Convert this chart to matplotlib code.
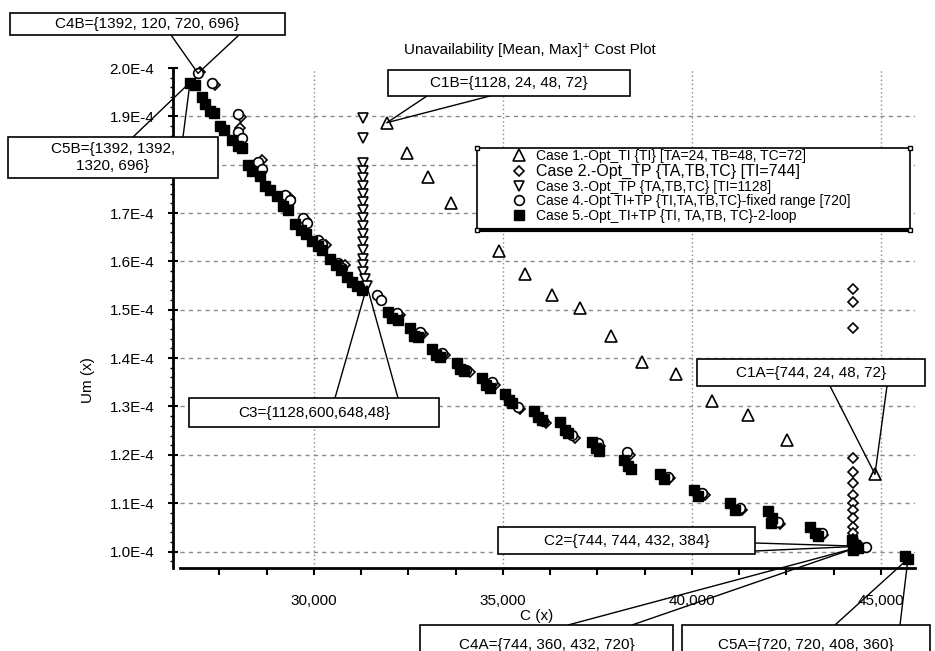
import matplotlib
matplotlib.use("Agg")
import matplotlib.pyplot as plt
import numpy as np
from matplotlib.patches import Rectangle
from matplotlib.ticker import FixedLocator, MultipleLocator, FuncFormatter

plt.rcParams['font.family'] = ['Liberation Sans', 'DejaVu Sans']

# ---- data (cost C(x), unavailability Um(x) in units of 1e-4) ----
case1_cost = [31931, 32460, 33016, 33624, 34894, 35582, 36296, 37037, 37857,
              38677, 39576, 40529, 41481, 42513, 44841]
case1_um = [1.887, 1.825, 1.774, 1.720, 1.621, 1.573, 1.530, 1.503, 1.445,
            1.392, 1.367, 1.311, 1.282, 1.230, 1.160]

case2_cost = [26984, 27381, 28069, 28042, 28624, 29365, 29788, 30317, 30820, 31746,
              32275, 32884, 33466, 34127, 34788, 35450, 36138, 36905, 37566, 38360,
              39418, 40344, 41323, 42328, 43466, 44445,
              44259, 44259, 44259, 44259, 44259, 44259, 44259, 44259, 44259, 44259,
              44259, 44259, 44259, 44259]
case2_um = [1.991, 1.964, 1.898, 1.875, 1.809, 1.732, 1.685, 1.633, 1.592, 1.524,
            1.489, 1.449, 1.406, 1.371, 1.344, 1.294, 1.266, 1.235, 1.218, 1.199,
            1.152, 1.117, 1.086, 1.057, 1.034, 1.011,
            1.542, 1.516, 1.462, 1.193, 1.164, 1.142, 1.117, 1.100, 1.086, 1.069,
            1.051, 1.038, 1.026, 1.016]

case3_cost = [31296, 31296, 31296, 31296, 31296, 31296, 31296, 31296, 31296, 31296,
              31296, 31296, 31296, 31296, 31296, 31296, 31296, 31350, 31402]
case3_um = [1.896, 1.856, 1.803, 1.788, 1.772, 1.755, 1.739, 1.722, 1.706, 1.689,
            1.673, 1.656, 1.640, 1.623, 1.606, 1.592, 1.578, 1.563, 1.549]

case4_cost = [26931, 27302, 27989, 27989, 28095, 28519, 28624, 29233, 29365, 29709,
              29815, 30106, 30212, 30635, 30741, 31667, 31772, 32196, 32804, 33386,
              34021, 34709, 35397, 36058, 36825, 37513, 38280, 39365, 40264, 41270,
              42275, 43439, 44603, 44312]
case4_um = [1.989, 1.968, 1.904, 1.867, 1.856, 1.805, 1.792, 1.737, 1.726, 1.689,
            1.679, 1.644, 1.635, 1.596, 1.586, 1.530, 1.520, 1.493, 1.454, 1.410,
            1.375, 1.350, 1.299, 1.270, 1.241, 1.224, 1.206, 1.154, 1.121, 1.090,
            1.061, 1.038, 1.009, 1.007]

case5_cost = [26720, 26852, 27037, 27116, 27249, 27354, 27513, 27619, 27831, 27989,
              28095, 28254, 28360, 28571, 28704, 28836, 29021, 29180, 29312, 29497,
              29656, 29788, 29947, 30106, 30212, 30423, 30582, 30714, 30873, 31005,
              31138, 31270, 31958, 32063, 32222, 32540, 32646, 32751, 33122, 33228,
              33333, 33783, 33862, 33968, 34444, 34550, 34656, 35053, 35159, 35238,
              35820, 35926, 36032, 36508, 36640, 36720, 37354, 37460, 37540, 38201,
              38307, 38386, 39153, 39259, 40053, 40159, 41005, 41138, 42011, 42116,
              42090, 43122, 43254, 43333, 44233, 44312, 44392, 44259, 45635, 45714]
case5_um = [1.970, 1.964, 1.939, 1.925, 1.912, 1.906, 1.881, 1.871, 1.852, 1.838,
            1.834, 1.799, 1.788, 1.776, 1.755, 1.747, 1.735, 1.714, 1.706, 1.677,
            1.666, 1.656, 1.642, 1.631, 1.623, 1.604, 1.592, 1.582, 1.567, 1.557,
            1.549, 1.540, 1.495, 1.482, 1.478, 1.462, 1.445, 1.443, 1.418, 1.406,
            1.402, 1.390, 1.377, 1.373, 1.359, 1.344, 1.338, 1.325, 1.313, 1.307,
            1.290, 1.278, 1.272, 1.268, 1.251, 1.245, 1.226, 1.214, 1.208, 1.189,
            1.177, 1.171, 1.160, 1.150, 1.127, 1.115, 1.100, 1.086, 1.084, 1.069,
            1.059, 1.051, 1.038, 1.032, 1.024, 1.013, 1.007, 1.003, 0.991, 0.985]

labels = ['Case 1.-Opt_TI {TI} [TA=24, TB=48, TC=72]',
          'Case 2.-Opt_TP {TA,TB,TC} [TI=744]',
          'Case 3.-Opt_TP {TA,TB,TC} [TI=1128]',
          'Case 4.-Opt TI+TP {TI,TA,TB,TC}-fixed range [720]',
          'Case 5.-Opt_TI+TP {TI, TA,TB, TC}-2-loop']

y_ticks = [1.0, 1.1, 1.2, 1.3, 1.4, 1.5, 1.6, 1.7, 1.8, 1.9, 2.0]
x_ticks = [30000, 35000, 40000, 45000]

W, H = 935, 651


def fx(px):
    return px / W


def fy(py):
    return 1 - py / H


def e4(vals):
    return np.array(vals) * 1e-4


def ylabel_fmt(v, pos):
    # the 1.8E-4 label sits under the C5B call-out box in the original
    if abs(v * 1e4 - 1.8) < 1e-6:
        return ''
    return f'{v * 1e4:.1f}E-4'


fig = plt.figure(figsize=(W / 100, H / 100), dpi=100)
ax = fig.add_axes([fx(173), fy(568), fx(915) - fx(173), fy(68) - fy(568)])
ax.set_xlim(26270, 45900)
ax.set_ylim(0.966e-4, 2.0e-4)

# grid
ax.hlines(e4(y_ticks[:-1]), 26455, 45900, colors='#8a8a8a', lw=1,
          linestyles=(0, (3, 3)), zorder=1)
ax.vlines(x_ticks, 0.966e-4, 2.0e-4, colors='#8a8a8a', lw=1,
          linestyles=(0, (1, 2)), zorder=1)

mk = dict(ls='none', mfc='white', mec='black', mew=1.2, clip_on=False)
l1, = ax.plot(case1_cost, e4(case1_um), marker='^', ms=8, zorder=3, **mk)
l2, = ax.plot(case2_cost, e4(case2_um), marker='D', ms=5.5, zorder=3, **mk)
l4, = ax.plot(case4_cost, e4(case4_um), marker='o', ms=7, zorder=3, **mk)
l5, = ax.plot(case5_cost, e4(case5_um), marker='s', ms=7.5, ls='none',
              mfc='black', mec='black', clip_on=False, zorder=3.5)
l3, = ax.plot(case3_cost, e4(case3_um), marker='v', ms=7, zorder=3.6, **mk)

# axes styling
for s in ['top', 'right']:
    ax.spines[s].set_visible(False)
ax.spines['left'].set_linewidth(2)
ax.spines['bottom'].set_linewidth(2)
ax.spines['bottom'].set_bounds(26455, 45900)

ax.yaxis.set_major_locator(FixedLocator(e4(y_ticks)))
ax.yaxis.set_minor_locator(MultipleLocator(0.02e-4))
ax.yaxis.set_major_formatter(FuncFormatter(ylabel_fmt))
ax.xaxis.set_major_locator(FixedLocator(x_ticks))
ax.xaxis.set_minor_locator(MultipleLocator(1250))
ax.xaxis.set_major_formatter(FuncFormatter(lambda v, p: f'{int(v):,}'))

ax.tick_params(axis='y', which='major', direction='inout', length=7, width=1.5,
               labelsize=11, pad=10)
ax.tick_params(axis='y', which='minor', direction='out', length=2.5, width=1)
ax.tick_params(axis='x', which='both', direction='out', length=5, width=1.5,
               labelsize=11, pad=14)

fig.text(fx(530), fy(50), 'Unavailability [Mean, Max]\u207a Cost Plot',
         ha='center', va='center', fontsize=11)
fig.text(fx(88), fy(380), 'Um (x)', rotation=90, ha='center', va='center', fontsize=11)
fig.text(fx(537), fy(616), 'C (x)', ha='center', va='center', fontsize=11)

# legend
ax.add_patch(Rectangle((fx(477), fy(230)), fx(910) - fx(477), fy(148) - fy(230),
                       transform=fig.transFigure, fc='white', ec='black', lw=1.2,
                       zorder=4, clip_on=False))
ax.plot([fx(477), fx(912)], [fy(230), fy(230)], transform=fig.transFigure,
        color='black', lw=3, solid_capstyle='butt', zorder=4.5, clip_on=False)
ax.plot([fx(477), fx(477), fx(910), fx(910)], [fy(148), fy(230), fy(148), fy(230)],
        ls='none', marker='s', ms=3.5, mfc='white', mec='black', mew=1,
        transform=fig.transFigure, zorder=7, clip_on=False)
leg = ax.legend([l1, l2, l3, l4, l5], labels, loc='upper left',
                bbox_to_anchor=(fx(508), fy(149)), bbox_transform=fig.transFigure,
                frameon=False, fontsize=10, handlelength=1.6, handletextpad=0.4,
                labelspacing=0.05, borderpad=0, borderaxespad=0, numpoints=1)
leg.get_texts()[1].set_fontsize(11.5)
leg.set_zorder(6)


def callout(text, box, bases, tip):
    x0, y0, x1, y1 = box
    fig.add_artist(Rectangle((fx(x0), fy(y1)), fx(x1) - fx(x0), fy(y0) - fy(y1),
                             transform=fig.transFigure, fc='white', ec='black',
                             lw=1.2, zorder=10))
    fig.text(fx((x0 + x1) / 2), fy((y0 + y1) / 2), text, ha='center', va='center',
             fontsize=11, zorder=11, linespacing=1.3)
    for bx, by in bases:
        ax.annotate('', xy=tip, xycoords='data', xytext=(fx(bx), fy(by)),
                    textcoords='figure fraction', annotation_clip=False, zorder=8,
                    arrowprops=dict(arrowstyle='-', lw=1, color='black',
                                    shrinkA=0, shrinkB=0))


callout('C4B={1392, 120, 720, 696}', (10, 13, 285, 35), [(171, 35), (239, 35)],
        (case4_cost[0], case4_um[0] * 1e-4))
callout('C5B={1392, 1392,\n1320, 696}', (8, 137, 218, 178), [(133, 137), (183, 137)],
        (case5_cost[0], case5_um[0] * 1e-4))
callout('C1B={1128, 24, 48, 72}', (388, 70, 630, 96), [(427, 96), (490, 96)],
        (case1_cost[0], case1_um[0] * 1e-4))
callout('C3={1128,600,648,48}', (189, 398, 439, 427), [(335, 398), (398, 398)],
        (case3_cost[-1], case3_um[-1] * 1e-4))
callout('C1A={744, 24, 48, 72}', (697, 359, 925, 386), [(830, 386), (887, 386)],
        (case1_cost[-1], case1_um[-1] * 1e-4))
callout('C2={744, 744, 432, 384}', (498, 527, 755, 554), [(755, 543), (755, 551)],
        (case2_cost[25], case2_um[25] * 1e-4))
callout('C4A={744, 360, 432, 720}', (420, 625, 673, 665), [(568, 625), (632, 625)],
        (case4_cost[-1], case4_um[-1] * 1e-4))
callout('C5A={720, 720, 408, 360}', (682, 625, 930, 665), [(835, 625), (900, 625)],
        (case5_cost[-1], case5_um[-1] * 1e-4))

fig.savefig('out.png', dpi=100, facecolor='white')
